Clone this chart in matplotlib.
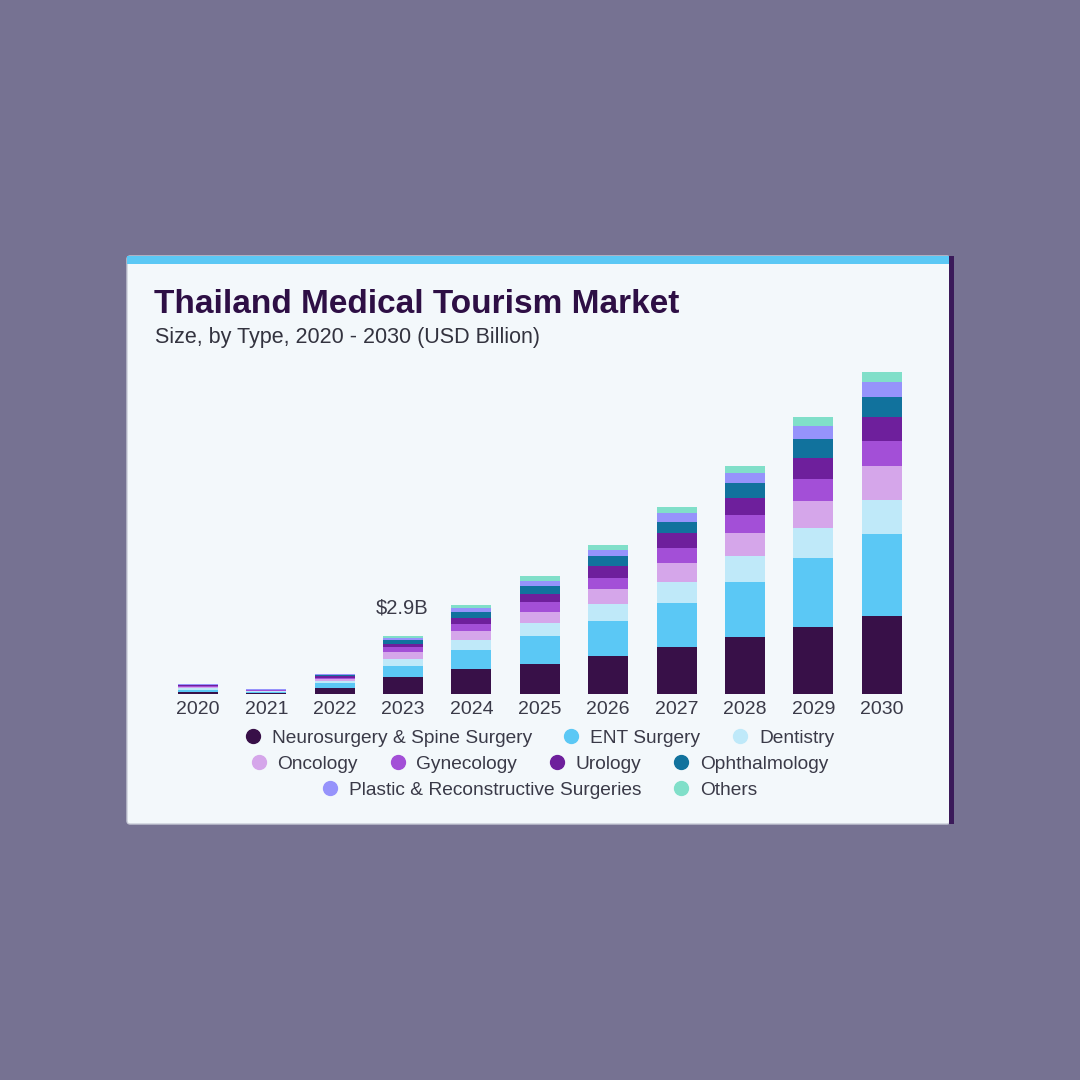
import matplotlib.pyplot as plt
from matplotlib.patches import Rectangle, FancyBboxPatch
from matplotlib.lines import Line2D

# data (USD Billion)
years = ["2020", "2021", "2022", "2023", "2024", "2025", "2026", "2027", "2028", "2029", "2030"]
neuro = [0.11, 0.05, 0.32, 0.84, 1.25, 1.50, 1.92, 2.33, 2.87, 3.35, 3.92]
ent = [0.10, 0.05, 0.22, 0.57, 0.95, 1.40, 1.73, 2.20, 2.73, 3.47, 4.08]
dentistry = [0.07, 0.03, 0.11, 0.33, 0.50, 0.63, 0.83, 1.05, 1.30, 1.47, 1.70]
oncology = [0.06, 0.03, 0.10, 0.36, 0.45, 0.58, 0.75, 0.95, 1.17, 1.38, 1.68]
gynecology = [0.05, 0.02, 0.07, 0.25, 0.35, 0.48, 0.58, 0.75, 0.88, 1.07, 1.28]
urology = [0.04, 0.02, 0.06, 0.17, 0.30, 0.40, 0.58, 0.75, 0.83, 1.05, 1.20]
ophthalmology = [0.03, 0.02, 0.06, 0.20, 0.30, 0.43, 0.52, 0.58, 0.75, 0.95, 1.00]
plastic = [0.03, 0.03, 0.04, 0.08, 0.18, 0.23, 0.28, 0.42, 0.50, 0.65, 0.72]
others = [0.02, 0.01, 0.03, 0.10, 0.15, 0.23, 0.28, 0.30, 0.38, 0.45, 0.53]

labels = ["Neurosurgery & Spine Surgery", "ENT Surgery", "Dentistry", "Oncology",
          "Gynecology", "Urology", "Ophthalmology",
          "Plastic & Reconstructive Surgeries", "Others"]
series = [neuro, ent, dentistry, oncology, gynecology, urology, ophthalmology, plastic, others]
colors = ["#381048", "#5bc8f5", "#bfe9f9", "#d5a6ea", "#a34fd7",
          "#6e1f9c", "#11729d", "#9693fb", "#80dfc9"]
highlight_year = "2023"
highlight_text = "$2.9B"

plt.rcParams['font.family'] = ['Liberation Sans', 'DejaVu Sans']

W = 1080.0


def fx(x):
    return x / W


def fy(y):
    return 1 - y / W


fig = plt.figure(figsize=(10.8, 10.8), dpi=100)
fig.patch.set_facecolor("#767292")

# card behind the chart
card = FancyBboxPatch((fx(127), fy(824)), fx(950) - fx(127), fy(256) - fy(824),
                      boxstyle="round,pad=0,rounding_size=0.003",
                      transform=fig.transFigure, facecolor="#f3f8fb",
                      edgecolor="#c9ccd8", linewidth=1.0, zorder=-3)
fig.add_artist(card)
fig.add_artist(Rectangle((fx(127), fy(264)), fx(950) - fx(127), fy(256) - fy(264),
                         transform=fig.transFigure, facecolor="#5bc8f5",
                         edgecolor="none", zorder=-2))
fig.add_artist(Rectangle((fx(949), fy(824)), fx(954) - fx(949), fy(256) - fy(824),
                         transform=fig.transFigure, facecolor="#3b1a5a",
                         edgecolor="none", zorder=-2))

# axes: baseline at y=694px, 20px per billion
ax = fig.add_axes([fx(163.8), fy(694), fx(752), 340 / W])
ax.set_facecolor("none")
x = list(range(len(years)))
bottom = [0.0] * len(years)
for vals, col, lab in zip(series, colors, labels):
    ax.bar(x, vals, bottom=bottom, width=0.585, color=col, label=lab, linewidth=0)
    bottom = [b + v for b, v in zip(bottom, vals)]

ax.set_xlim(-0.5, len(years) - 0.5)
ax.set_ylim(0, 17)
ax.set_xticks(x)
ax.set_xticklabels(years, fontsize=14, color="#3a3a48")
ax.tick_params(axis="x", length=0, pad=5)
ax.set_yticks([])
for s in ax.spines.values():
    s.set_visible(False)

hi = years.index(highlight_year)
ax.annotate(highlight_text, (hi, bottom[hi]), xytext=(-1, 13), textcoords="offset points",
            ha="center", va="bottom", fontsize=14.5, color="#3a3a48")

# title + subtitle
fig.text(fx(154), fy(313), "Thailand Medical Tourism Market", fontsize=24,
         fontweight="heavy", color="#2e0f45", va="baseline", ha="left")
fig.text(fx(155), fy(343), "Size, by Type, 2020 - 2030 (USD Billion)", fontsize=15.5,
         color="#33333f", va="baseline", ha="left")

# legend in three centered rows
rows = [[0, 1, 2], [3, 4, 5, 6], [7, 8]]
row_y = [738, 764, 790]
for idx, yy in zip(rows, row_y):
    handles = [Line2D([], [], linestyle="none", marker="o", markersize=10,
                      markerfacecolor=colors[i], markeredgecolor=colors[i]) for i in idx]
    leg = fig.legend(handles, [labels[i] for i in idx], loc="center",
                     bbox_to_anchor=(fx(540), fy(yy)), ncol=len(idx), frameon=False,
                     fontsize=13.8, handlelength=0.73, handletextpad=0.62,
                     columnspacing=1.7, borderpad=0, borderaxespad=0)
    for t in leg.get_texts():
        t.set_color("#3a3a48")

fig.savefig("out.png", dpi=100, facecolor=fig.get_facecolor())
